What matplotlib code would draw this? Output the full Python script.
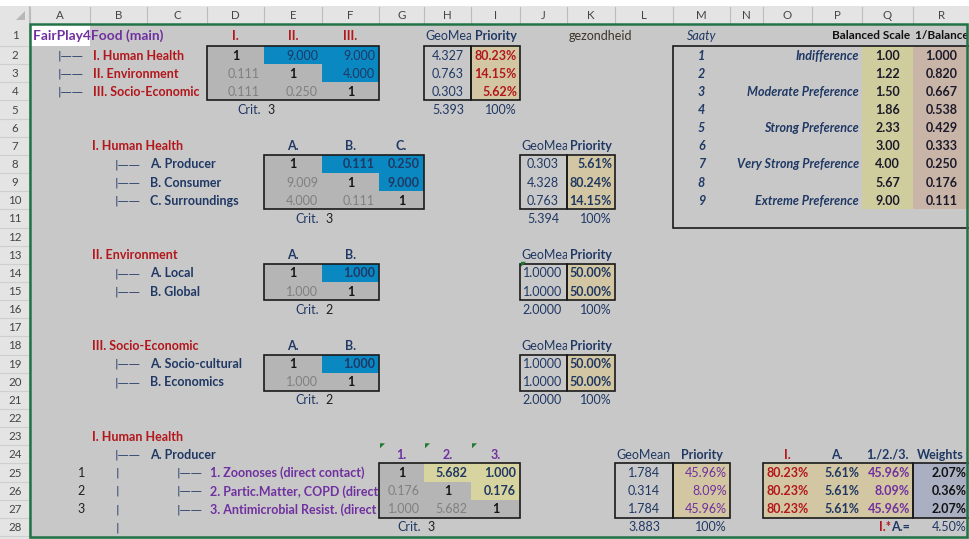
import matplotlib.pyplot as plt
from matplotlib.patches import Rectangle, Polygon
from matplotlib.transforms import Bbox, TransformedBbox

plt.rcParams['font.family'] = ['Lato', 'DejaVu Sans']

# ---- sheet values -------------------------------------------------------
main_heads = ["I.", "II.", "III."]
main_labels = ["I. Human Health", "II. Environment", "III. Socio-Economic"]
main_matrix = [[1, 9.000, 9.000], [0.111, 1, 4.000], [0.111, 0.250, 1]]
main_geo = [4.327, 0.763, 0.303]
main_geo_sum = 5.393
main_prio = [80.23, 14.15, 5.62]

hh_heads = ["A.", "B.", "C."]
hh_labels = ["A. Producer", "B. Consumer", "C. Surroundings"]
hh_matrix = [[1, 0.111, 0.250], [9.009, 1, 9.000], [4.000, 0.111, 1]]
hh_geo = [0.303, 4.328, 0.763]
hh_geo_sum = 5.394
hh_prio = [5.61, 80.24, 14.15]

env_heads = ["A.", "B."]
env_labels = ["A. Local", "B. Global"]
env_matrix = [[1, 1.000], [1.000, 1]]
env_geo = [1.0000, 1.0000]
env_geo_sum = 2.0000
env_prio = [50.00, 50.00]

soc_heads = ["A.", "B."]
soc_labels = ["A. Socio-cultural", "B. Economics"]
soc_matrix = [[1, 1.000], [1.000, 1]]
soc_geo = [1.0000, 1.0000]
soc_geo_sum = 2.0000
soc_prio = [50.00, 50.00]

prod_heads = ["1.", "2.", "3."]
prod_labels = ["1. Zoonoses (direct contact)",
               "2. Partic.Matter, COPD (direct contact)",
               "3. Antimicrobial Resist. (direct contact)"]
prod_matrix = [[1, 5.682, 1.000], [0.176, 1, 0.176], [1.000, 5.682, 1]]
prod_geo = [1.784, 0.314, 1.784]
prod_geo_sum = 3.883
prod_prio = [45.96, 8.09, 45.96]
parent_prio = [80.23, 80.23, 80.23]
group_prio = [5.61, 5.61, 5.61]
weights = [2.07, 0.36, 2.07]
weights_total = 4.50

saaty_levels = [1, 2, 3, 4, 5, 6, 7, 8, 9]
saaty_terms = {1: "Indifference", 3: "Moderate Preference", 5: "Strong Preference",
               7: "Very Strong Preference", 9: "Extreme Preference"}
balanced = [1.00, 1.22, 1.50, 1.86, 2.33, 3.00, 4.00, 5.67, 9.00]
inv_balanced = [1.000, 0.820, 0.667, 0.538, 0.429, 0.333, 0.250, 0.176, 0.111]

# ---- grid layout (pixels) ----------------------------------------------
cols = list("ABCDEFGHIJKLMNOPQR")
col_edges = [30, 90, 147, 207, 264, 322, 379, 424, 471, 520, 567, 615,
             673, 730, 763, 812, 862, 913, 970]
row_edges = [24, 46] + [46 + 18.15 * i for i in range(1, 28)]

SHEET = "#c8c8c8"
MAT = "#b5b5b5"
BLUE = "#0a88c2"
TAN = "#d3c7a3"
OLIVE = "#cfcc9d"
PINK = "#c9b4a8"
YELLOW = "#d7d49f"
WBLUE = "#aab0c2"
RED = "#b3161b"
NAVY = "#1f3864"
PURPLE = "#7030a0"
GREY = "#808080"
HEAD = "#e4e4e4"
GREEN = "#217346"
FS = 9.0

fig = plt.figure(figsize=(9.7, 5.39), dpi=100)
ax = fig.add_axes([0, 0, 1, 1])
ax.set_xlim(0, 970)
ax.set_ylim(539, 0)
ax.axis('off')


def cx(c):
    i = cols.index(c)
    return col_edges[i], col_edges[i + 1]


def cy(r):
    return row_edges[r - 1], row_edges[r]


def fill(c0, r0, c1, r1, color, z=1):
    x0, x1 = cx(c0)[0], cx(c1)[1]
    y0, y1 = cy(r0)[0], cy(r1)[1]
    ax.add_patch(Rectangle((x0, y0), x1 - x0, y1 - y0, facecolor=color,
                           edgecolor='none', zorder=z))


def box(c0, r0, c1, r1, lw=1.2):
    x0, x1 = cx(c0)[0], cx(c1)[1]
    y0, y1 = cy(r0)[0], cy(r1)[1]
    ax.add_patch(Rectangle((x0, y0), x1 - x0, y1 - y0, facecolor='none',
                           edgecolor='#1a1a1a', lw=lw, zorder=4))


def put(c, r, s, ha='right', color=NAVY, bold=False, italic=False, size=FS,
        pad=4, clip_to=None, z=5, family=None):
    x0, x1 = cx(c)
    y0, y1 = cy(r)
    x = {'left': x0 + pad, 'right': x1 - pad, 'center': (x0 + x1) / 2}[ha]
    t = ax.text(x, (y0 + y1) / 2 + 0.5, s, ha=ha, va='center', color=color,
                fontsize=size, fontweight='bold' if bold else 'normal',
                fontstyle='italic' if italic else 'normal', zorder=z)
    if family:
        t.set_family(family)
    if clip_to is not None:
        t.set_clip_box(TransformedBbox(Bbox.from_extents(x0, y0, clip_to, y1),
                                       ax.transData))
        t.set_clip_on(True)
    return t


def shift(c, k):
    return cols[cols.index(c) + k]


def matrix(c0, r0, heads, values, upper, head_color, upper_bold=True):
    n = len(values)
    for j in range(n):
        put(shift(c0, j), r0 - 1, heads[j], ha='center', color=head_color, bold=True)
    for i in range(n):
        for j in range(n):
            c, r = shift(c0, j), r0 + i
            fill(c, r, c, r, upper if j > i else MAT, z=2)
            v = values[i][j]
            if i == j:
                put(c, r, "1", ha='center', color='#141414', bold=True)
            elif j > i:
                put(c, r, f"{v:.3f}", color=NAVY, bold=upper_bold)
            else:
                put(c, r, f"{v:.3f}", color=GREY)
    box(c0, r0, shift(c0, n - 1), r0 + n - 1)
    put(c0, r0 + n, "Crit.", color=NAVY, pad=3)
    put(shift(c0, 1), r0 + n, str(n), ha='left', color='#202020', pad=3)


def results(cg, r0, geo, gsum, prio, fmt, prio_color, gpad):
    cp = shift(cg, 1)
    n = len(geo)
    put(cg, r0 - 1, "GeoMean", ha='left', color=NAVY, pad=1, clip_to=cx(cg)[1])
    put(cp, r0 - 1, "Priority", ha='center', color=NAVY, bold=True)
    for i in range(n):
        fill(cp, r0 + i, cp, r0 + i, TAN, z=2)
        put(cg, r0 + i, fmt.format(geo[i]), color=NAVY, pad=gpad)
        put(cp, r0 + i, f"{prio[i]:.2f}%", color=prio_color, bold=True, pad=3)
    box(cg, r0, cg, r0 + n - 1)
    box(cp, r0, cp, r0 + n - 1)
    put(cg, r0 + n, fmt.format(gsum), color=NAVY, pad=gpad)
    put(cp, r0 + n, "100%", color=NAVY, pad=3)


def tree(c, r, label, lab_color=NAVY):
    put(c, r, "|\u2014\u2014", ha='left', color=NAVY, size=8,
        pad=30 if c == 'C' else (28 if c == 'A' else 25), family='DejaVu Sans')
    # labels sit under the matrix fills so long ones get cut at column G
    put(shift(c, 1), r, label, ha='left', color=lab_color, bold=True, pad=3,
        z=1.5)


# ---- sheet frame --------------------------------------------------------
ax.add_patch(Rectangle((30, 24), 940, 515, facecolor=SHEET, edgecolor='none', zorder=0))
ax.add_patch(Rectangle((0, 6), 970, 18, facecolor=HEAD, edgecolor='none', zorder=0))
ax.add_patch(Rectangle((0, 24), 30, 515, facecolor=HEAD, edgecolor='none', zorder=0))
ax.add_patch(Polygon([(25, 11), (25, 20), (16, 20)], closed=True,
                     facecolor='#b8b8b8', edgecolor='none', zorder=1))
for i, c in enumerate(cols):
    x0, x1 = col_edges[i], col_edges[i + 1]
    ax.text((x0 + x1) / 2, 15.5, c, ha='center', va='center', fontsize=8.3,
            color='#444444')
    ax.plot([x0, x0], [7, 23], color='#bcbcbc', lw=0.8, zorder=1)
for r in range(1, 29):
    y0, y1 = cy(r)
    ax.text(15, (y0 + y1) / 2 + 0.5, str(r), ha='center', va='center',
            fontsize=8.3, color='#444444')
    ax.plot([0, 29], [y1, y1], color='#cfcfcf', lw=0.8, zorder=1)
ax.plot([29, 29], [6, 539], color='#bcbcbc', lw=0.8, zorder=1)

# active cell and title
fill('A', 1, 'A', 1, 'white', z=1)
put('A', 1, "FairPlay4Food (main)", ha='left', color=PURPLE, bold=True,
    size=9.9, pad=3)

# ---- main criteria ------------------------------------------------------
for i, lab in enumerate(main_labels):
    tree('A', 2 + i, lab, RED)
matrix('D', 2, main_heads, main_matrix, BLUE, RED, upper_bold=False)
results('H', 2, main_geo, main_geo_sum, main_prio, "{:.3f}", RED, 7)
put('K', 1, "gezondheid", ha='left', color='#3d3428', pad=2)

# ---- sub criteria -------------------------------------------------------
put('B', 7, "I. Human Health", ha='left', color=RED, bold=True, pad=2)
for i, lab in enumerate(hh_labels):
    tree('B', 8 + i, lab)
matrix('E', 8, hh_heads, hh_matrix, BLUE, NAVY)
results('J', 8, hh_geo, hh_geo_sum, hh_prio, "{:.3f}", NAVY, 8)

put('B', 13, "II. Environment", ha='left', color=RED, bold=True, pad=2)
for i, lab in enumerate(env_labels):
    tree('B', 14 + i, lab)
matrix('E', 14, env_heads, env_matrix, BLUE, NAVY)
results('J', 14, env_geo, env_geo_sum, env_prio, "{:.4f}", NAVY, 5)

put('B', 18, "III. Socio-Economic", ha='left', color=RED, bold=True, pad=2)
for i, lab in enumerate(soc_labels):
    tree('B', 19 + i, lab)
matrix('E', 19, soc_heads, soc_matrix, BLUE, NAVY)
results('J', 19, soc_geo, soc_geo_sum, soc_prio, "{:.4f}", NAVY, 5)

# ---- indicators under I. / A. ------------------------------------------
put('B', 23, "I. Human Health", ha='left', color=RED, bold=True, pad=2)
tree('B', 24, "A. Producer")
for i, lab in enumerate(prod_labels):
    put('A', 25 + i, str(i + 1), color='#202020', pad=5)
    put('B', 25 + i, "|", ha='left', color=NAVY, pad=26, family='DejaVu Sans', size=8)
    tree('C', 25 + i, lab, PURPLE)
put('B', 28, "|", ha='left', color=NAVY, pad=26, family='DejaVu Sans', size=8)
matrix('G', 25, prod_heads, prod_matrix, YELLOW, PURPLE)

put('L', 24, "GeoMean", ha='center', color=NAVY)
put('M', 24, "Priority", ha='center', color=NAVY, bold=True)
for i in range(3):
    r = 25 + i
    fill('M', r, 'M', r, TAN, z=2)
    fill('O', r, 'Q', r, TAN, z=2)
    fill('R', r, 'R', r, WBLUE, z=2)
    put('L', r, f"{prod_geo[i]:.3f}", color=NAVY, pad=13)
    put('M', r, f"{prod_prio[i]:.2f}%", color=PURPLE, pad=3)
    put('O', r, f"{parent_prio[i]:.2f}%", color=RED, bold=True, pad=3)
    put('P', r, f"{group_prio[i]:.2f}%", color=NAVY, bold=True, pad=3)
    put('Q', r, f"{prod_prio[i]:.2f}%", color=PURPLE, bold=True, pad=3)
    put('R', r, f"{weights[i]:.2f}%", color='#111111', bold=True, pad=3,
        clip_to=967)
box('L', 25, 'L', 27)
box('M', 25, 'M', 27)
box('O', 25, 'Q', 27)
box('R', 25, 'R', 27)
put('L', 28, f"{prod_geo_sum:.3f}", color=NAVY, pad=13)
put('M', 28, "100%", color=NAVY, pad=3)
put('O', 24, "I.", ha='center', color=RED, bold=True)
put('P', 24, "A.", ha='center', color=NAVY, bold=True)
put('Q', 24, "1./2./3.", ha='center', color=NAVY, bold=True)
put('R', 24, "Weights", ha='left', color=NAVY, bold=True, pad=4, clip_to=967)
eq = put('Q', 28, "A.=", color=NAVY, bold=True, pad=3)
ax.annotate("I.*", xy=(0, 0.5), xycoords=eq, ha='right', va='center',
            color=RED, fontsize=FS, fontweight='bold', zorder=5)
put('R', 28, f"{weights_total:.2f}%", color=NAVY, pad=3, clip_to=967)

# comment markers
for c, r in [('G', 24), ('H', 24), ('I', 24), ('J', 14)]:
    x0, y0 = cx(c)[0], cy(r)[0]
    ax.add_patch(Polygon([(x0 + 1, y0 - 2), (x0 + 6, y0 - 2), (x0 + 1, y0 + 3)],
                         closed=True, facecolor='#1e7a2e', edgecolor='none', zorder=6))

# ---- Saaty scale --------------------------------------------------------
put('M', 1, "Saaty", ha='center', color=NAVY, italic=True)
put('Q', 1, "Balanced Scale", color='#111111', bold=True, pad=3, size=8.5)
put('R', 1, "1/Balanced Scale", ha='left', color='#111111', bold=True, pad=2,
    size=8.5, clip_to=967)
for i, lvl in enumerate(saaty_levels):
    r = 2 + i
    fill('Q', r, 'Q', r, OLIVE, z=2)
    fill('R', r, 'R', r, PINK, z=2)
    put('M', r, str(lvl), ha='center', color=NAVY, bold=True, italic=True)
    if lvl in saaty_terms:
        put('P', r, saaty_terms[lvl], color=NAVY, bold=True, italic=True, pad=3)
    put('Q', r, f"{balanced[i]:.2f}", ha='center', color='#1a1a2a', bold=True)
    put('R', r, f"{inv_balanced[i]:.3f}", ha='center', color='#1a1a2a', bold=True)
box('M', 2, 'R', 11)

# selection outline
ax.add_patch(Rectangle((30, 24), 937, 513, facecolor='none', edgecolor=GREEN,
                       lw=1.8, zorder=8))

fig.savefig("out.png", dpi=100)
